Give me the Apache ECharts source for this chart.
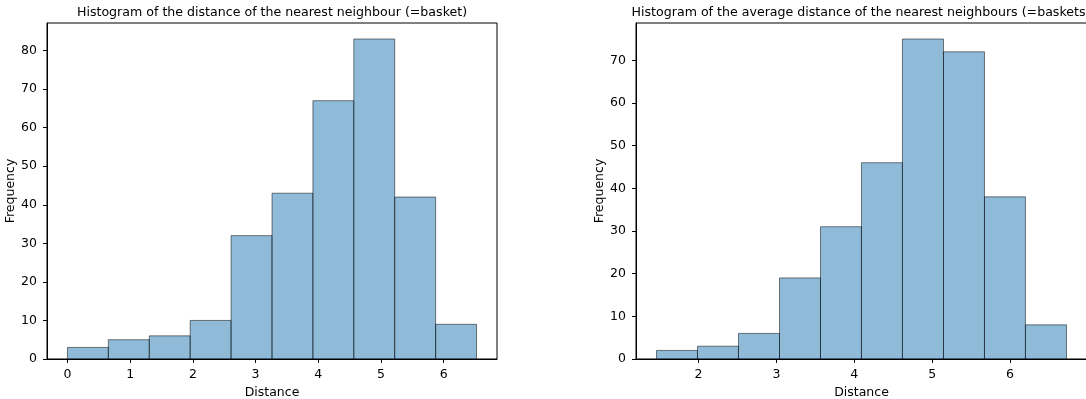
<!DOCTYPE html>
<html><head><meta charset="utf-8">
<script src="https://cdn.jsdelivr.net/npm/echarts@6/dist/echarts.min.js"></script>
<style>html,body{margin:0;padding:0;background:#fff}#c{width:1086px;height:399px}</style>
</head><body><div id="c"></div>
<script>
// Left histogram: nearest neighbour distance
const leftTitle = "Histogram of the distance of the nearest neighbour (=basket)";
const leftEdges = [0, 0.652, 1.305, 1.957, 2.609, 3.262, 3.914, 4.566, 5.218, 5.871, 6.523];
const leftCounts = [3, 5, 6, 10, 32, 43, 67, 83, 42, 9];
const leftXTicks = [0, 1, 2, 3, 4, 5, 6];

// Right histogram: average distance of nearest neighbours
const rightTitle = "Histogram of the average distance of the nearest neighbours (=baskets)";
const rightEdges = [1.461, 1.987, 2.513, 3.040, 3.566, 4.092, 4.618, 5.145, 5.671, 6.197, 6.724];
const rightCounts = [2, 3, 6, 19, 31, 46, 75, 72, 38, 8];
const rightXTicks = [2, 3, 4, 5, 6];

const xLabel = "Distance";
const yLabel = "Frequency";

function binData(edges, counts) {
  return counts.map((c, i) => [edges[i], edges[i + 1], c]);
}
function pad(edges, frac) {
  const lo = edges[0], hi = edges[edges.length - 1], m = (hi - lo) * frac;
  return [lo - m, hi + m];
}
const font = "DejaVu Sans";
const fs = 12.5;
const lr = pad(leftEdges, 0.05), rr = pad(rightEdges, 0.05);
const lmax = Math.max(...leftCounts) * 1.05, rmax = Math.max(...rightCounts) * 1.05;

function xAxis(gi, range, ticks) {
  return {
    type: 'value', gridIndex: gi, min: range[0], max: range[1],
    name: xLabel, nameLocation: 'middle', nameGap: 27,
    nameTextStyle: { fontFamily: font, fontSize: fs, color: '#000' },
    splitLine: { show: false },
    axisLine: { show: true, onZero: false, lineStyle: { color: '#000', width: 1 } },
    axisTick: { show: true, inside: false, length: 4, customValues: ticks, lineStyle: { color: '#000' } },
    axisLabel: { customValues: ticks, fontFamily: font, fontSize: fs, color: '#000', margin: 9 }
  };
}
function yAxis(gi, max) {
  return {
    type: 'value', gridIndex: gi, min: 0, max: max, interval: 10,
    name: yLabel, nameLocation: 'middle', nameGap: 30, nameRotate: 90,
    nameTextStyle: { fontFamily: font, fontSize: fs, color: '#000' },
    splitLine: { show: false },
    axisLine: { show: true, onZero: false, lineStyle: { color: '#000', width: 1 } },
    axisTick: { show: true, inside: false, length: 4, lineStyle: { color: '#000' } },
    axisLabel: { fontFamily: font, fontSize: fs, color: '#000', margin: 10,
      showMaxLabel: false }
  };
}
function series(gi, data) {
  return {
    type: 'custom', xAxisIndex: gi, yAxisIndex: gi, data: data,
    renderItem: function (params, api) {
      const p0 = api.coord([api.value(0), 0]);
      const p1 = api.coord([api.value(1), api.value(2)]);
      return {
        type: 'rect',
        shape: { x: p0[0], y: p1[1], width: p1[0] - p0[0], height: p0[1] - p1[1] },
        style: { fill: 'rgba(31,119,180,0.5)', stroke: 'rgba(0,0,0,0.5)', lineWidth: 1 }
      };
    }
  };
}

const chart = echarts.init(document.getElementById('c'), null, { renderer: 'canvas' });
chart.setOption({
  animation: false,
  backgroundColor: '#fff',
  title: [
    { text: leftTitle, left: 267, top: 1, padding: 5, textAlign: 'center',
      textStyle: { fontFamily: font, fontSize: 12.6, fontWeight: 'normal', color: '#000' } },
    { text: rightTitle, left: 856, top: 1, padding: 5, textAlign: 'center',
      textStyle: { fontFamily: font, fontSize: 12.6, fontWeight: 'normal', color: '#000' } }
  ],
  grid: [
    { left: 47, top: 23, width: 450, height: 336, containLabel: false, outerBoundsMode: 'none',
      show: true, borderColor: '#000', borderWidth: 1, backgroundColor: 'transparent' },
    { left: 636, top: 23, width: 451, height: 336, containLabel: false, outerBoundsMode: 'none',
      show: true, borderColor: '#000', borderWidth: 1, backgroundColor: 'transparent' }
  ],
  xAxis: [xAxis(0, lr, leftXTicks), xAxis(1, rr, rightXTicks)],
  yAxis: [yAxis(0, lmax), yAxis(1, rmax)],
  series: [series(0, binData(leftEdges, leftCounts)), series(1, binData(rightEdges, rightCounts))]
});
</script></body></html>
